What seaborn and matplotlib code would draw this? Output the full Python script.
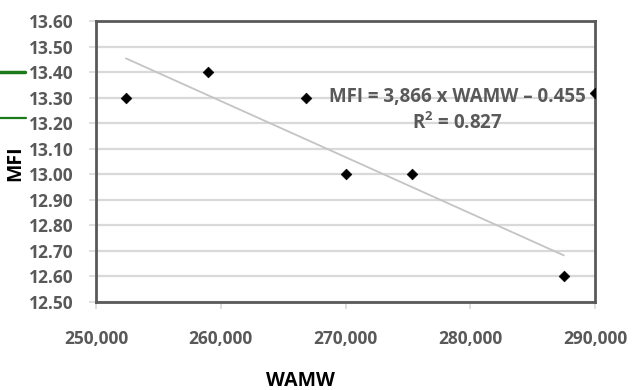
import matplotlib
matplotlib.use("Agg")
import matplotlib.pyplot as plt
import seaborn as sns
import numpy as np
import pandas as pd
from matplotlib.lines import Line2D
from matplotlib.ticker import FuncFormatter

wamw = [252400, 259000, 266800, 270000, 275300, 287500]
mfi = [13.30, 13.40, 13.30, 13.00, 13.00, 12.60]
edge_wamw = [290000]
edge_mfi = [13.32]
x_ticks = [250000, 260000, 270000, 280000, 290000]
y_ticks = [12.5, 12.6, 12.7, 12.8, 12.9, 13.0, 13.1, 13.2, 13.3, 13.4, 13.5, 13.6]
eq_text = "MFI = 3,866 x WAMW \u2013 0.455"
r2_text = r"R$^2$ = 0.827"

df = pd.DataFrame({"WAMW": wamw, "MFI": mfi})
df_edge = pd.DataFrame({"WAMW": edge_wamw, "MFI": edge_mfi})

sns.set_theme(style="white")
plt.rcParams["font.family"] = ["Open Sans", "DejaVu Sans"]
plt.rcParams["mathtext.fontset"] = "custom"
plt.rcParams["mathtext.rm"] = "Open Sans:bold"
plt.rcParams["mathtext.default"] = "rm"

fig = plt.figure(figsize=(6.32, 3.9), dpi=100)
ax = fig.add_axes([96/632, 1-302/390, (595-96)/632, (302-21)/390])

grid_c = "#d9d9d9"
text_c = "#595959"

sns.regplot(data=df, x="WAMW", y="MFI", ax=ax, ci=None, scatter=False,
            line_kws=dict(color="#c4c4c4", lw=1.3, zorder=2))
sns.scatterplot(data=df, x="WAMW", y="MFI", ax=ax, marker="D", color="black",
                s=30, edgecolor="black", zorder=4)
sns.scatterplot(data=df_edge, x="WAMW", y="MFI", ax=ax, marker="D", color="black",
                s=30, edgecolor="black", zorder=4, clip_on=True)

ax.set_xlim(250000, 290000)
ax.set_ylim(12.5, 13.6)
ax.set_xticks(x_ticks)
ax.set_yticks(y_ticks)
ax.xaxis.set_major_formatter(FuncFormatter(lambda v, p: f"{int(v):,}"))
ax.yaxis.set_major_formatter(FuncFormatter(lambda v, p: f"{v:.2f}"))
ax.grid(axis="y", color=grid_c, lw=1.6, zorder=0)
ax.set_axisbelow(True)
for s in ax.spines.values():
    s.set_color("#5a5a5a")
    s.set_linewidth(2.0)

ax.tick_params(axis="both", which="major", length=5, width=1.2, color=grid_c,
               direction="out", labelcolor=text_c, labelsize=12.5)
ax.tick_params(axis="y", pad=11)
ax.tick_params(axis="x", pad=15)
for lab in ax.get_xticklabels() + ax.get_yticklabels():
    lab.set_fontweight("bold")
ax.tick_params(left=True, bottom=True)

ax.set_xlabel("WAMW", fontsize=14, fontweight="bold", color="black",
              va="center", ha="center")
ax.set_ylabel("MFI", fontsize=14, fontweight="bold", color="black",
              va="center", ha="center")
ax.xaxis.set_label_coords(0.409, -0.281)
ax.yaxis.set_label_coords(-0.162, 0.495)

ax.text(0.7234, 0.7295, eq_text, transform=ax.transAxes, ha="center", va="center",
        fontsize=13.5, fontweight="bold", color=text_c, zorder=5)
ax.text(0.7234, 0.637, r2_text, transform=ax.transAxes, ha="center", va="center",
        fontsize=13.5, fontweight="bold", color=text_c, zorder=5)

# green marker lines at left edge
fig.add_artist(Line2D([0, 25/632], [1-72/390, 1-72/390], color="#1b7a1b", lw=2.5))
fig.add_artist(Line2D([0, 26/632], [1-118/390, 1-118/390], color="#1b7a1b", lw=1.6))

fig.savefig("out.png", dpi=100, facecolor="white")
